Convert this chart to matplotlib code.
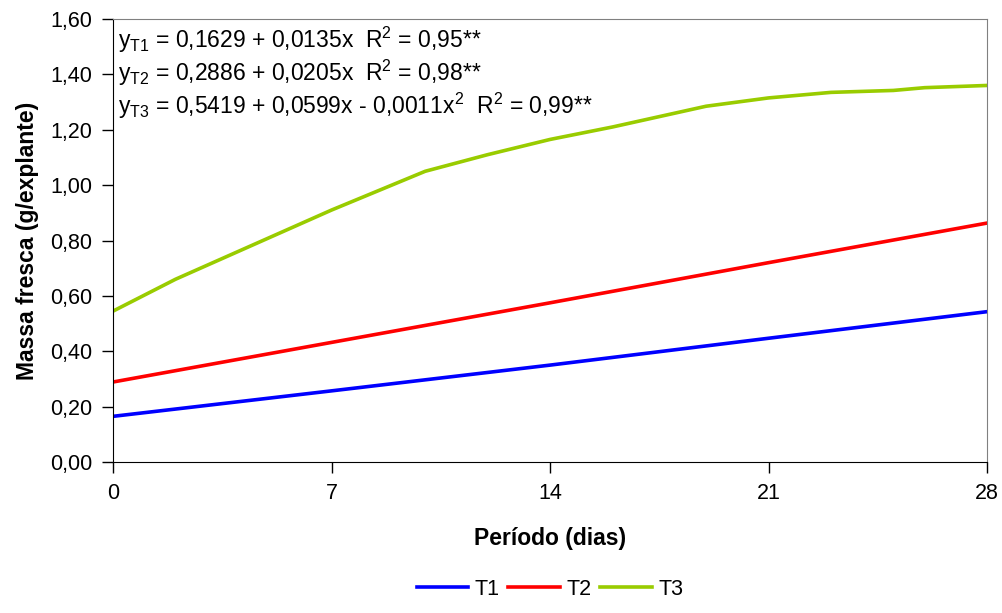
import matplotlib
matplotlib.use("Agg")
import matplotlib.pyplot as plt

plt.rcParams['font.family'] = ['Liberation Sans', 'DejaVu Sans']
plt.rcParams['mathtext.fontset'] = 'custom'
plt.rcParams['mathtext.rm'] = 'Liberation Sans'
plt.rcParams['mathtext.it'] = 'Liberation Sans'

# dias de cultivo e massa fresca estimada por tratamento
dias_t1 = [0, 7, 14, 21, 28]
massa_t1 = [0.165, 0.257, 0.350, 0.447, 0.543]

dias_t2 = [0, 7, 14, 21, 28]
massa_t2 = [0.289, 0.432, 0.575, 0.720, 0.863]

dias_t3 = [0, 2, 4, 7, 10, 12, 14, 16, 19, 21, 23, 25, 26, 28]
massa_t3 = [0.545, 0.66, 0.76, 0.91, 1.05, 1.11, 1.165, 1.21, 1.285,
            1.315, 1.335, 1.342, 1.352, 1.36]

equacoes = [
    r'y$_{\mathrm{T1}}$ = 0,1629 + 0,0135x  R$^{\mathrm{2}}$ = 0,95**',
    r'y$_{\mathrm{T2}}$ = 0,2886 + 0,0205x  R$^{\mathrm{2}}$ = 0,98**',
    r'y$_{\mathrm{T3}}$ = 0,5419 + 0,0599x - 0,0011x$^{\mathrm{2}}$  R$^{\mathrm{2}}$ = 0,99**',
]

xticks = [0, 7, 14, 21, 28]
yticks = [0, 0.2, 0.4, 0.6, 0.8, 1.0, 1.2, 1.4, 1.6]

fig = plt.figure(figsize=(10.03, 6.13), dpi=100)
ax = fig.add_axes([0.1127, 0.2463, 0.8714, 0.7227])

ax.plot(dias_t1, massa_t1, color='#0000FF', lw=2.6, label='T1')
ax.plot(dias_t2, massa_t2, color='#FF0000', lw=2.6, label='T2')
ax.plot(dias_t3, massa_t3, color='#99CC00', lw=2.6, label='T3')

ax.set_xlim(0, 28)
ax.set_ylim(0, 1.6)
ax.set_xticks(xticks)
ax.set_yticks(yticks)
ax.set_yticklabels([f'{v:.2f}'.replace('.', ',') for v in yticks])
ax.tick_params(direction='out', length=8, width=1, labelsize=15.5, pad=7)

for lado in ['top', 'right']:
    ax.spines[lado].set_color('#808080')
for lado in ['left', 'bottom']:
    ax.spines[lado].set_color('black')

ax.set_xlabel('Período (dias)', fontsize=16.5, fontweight='bold', labelpad=17)
ax.set_ylabel('Massa fresca (g/explante)', fontsize=16.5, fontweight='bold', labelpad=8)

for i, eq in enumerate(equacoes):
    ax.text(0.006, 0.953 - i * 0.0745, eq, transform=ax.transAxes,
            fontsize=16.5, va='center', ha='left')

ax.legend(loc='lower center', bbox_to_anchor=(0.5, -0.355), ncol=3,
          frameon=False, fontsize=15.5, handlelength=2.4, handletextpad=0.3,
          columnspacing=0.4)

fig.savefig('out.png', dpi=100)
